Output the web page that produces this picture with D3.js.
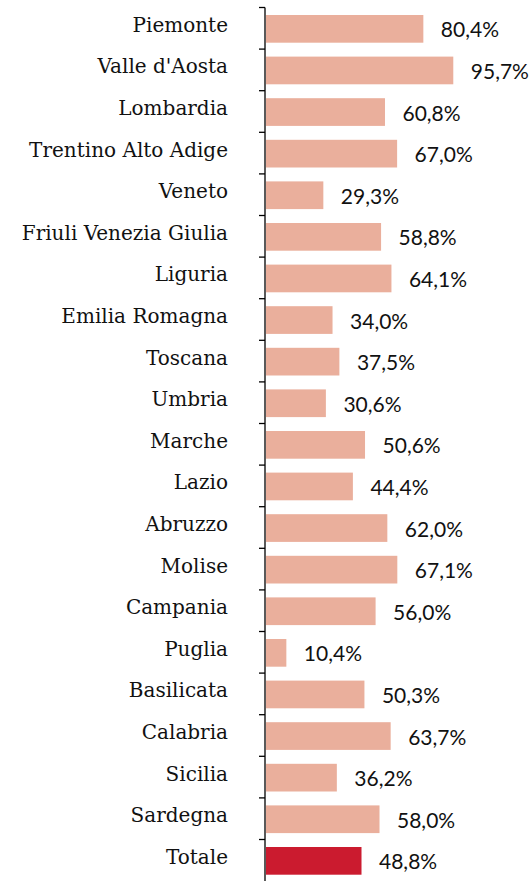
<!DOCTYPE html>
<html><head><meta charset="utf-8">
<script src="https://cdn.jsdelivr.net/npm/d3@7"></script>
<style>body{margin:0;background:#fff}</style>
</head><body>
<svg id="c" width="532" height="881"></svg>
<script>
const regions = ["Piemonte","Valle d'Aosta","Lombardia","Trentino Alto Adige","Veneto","Friuli Venezia Giulia","Liguria","Emilia Romagna","Toscana","Umbria","Marche","Lazio","Abruzzo","Molise","Campania","Puglia","Basilicata","Calabria","Sicilia","Sardegna","Totale"];
const values = [80.4,95.7,60.8,67.0,29.3,58.8,64.1,34.0,37.5,30.6,50.6,44.4,62.0,67.1,56.0,10.4,50.3,63.7,36.2,58.0,48.8];

const svg = d3.select("#c");
const x = d3.scaleLinear().domain([0,100]).range([266,461.7]);
const y = d3.scaleBand().domain(regions).range([7.5,881.1]).paddingInner(0).paddingOuter(0);
const fmt = v => v.toFixed(1).replace(".", ",") + "%";

svg.selectAll("rect.bar").data(regions).join("rect")
  .attr("x", x(0))
  .attr("y", d => y(d) + 7.5)
  .attr("width", (d,i) => x(values[i]) - x(0))
  .attr("height", 27.7)
  .attr("fill", d => d === "Totale" ? "#CB1B2F" : "#EAAF9C");

svg.append("line").attr("x1",265).attr("x2",265).attr("y1",y.range()[0]).attr("y2",881)
  .attr("stroke","#000").attr("stroke-width",1.3);
svg.selectAll("line.tick").data(regions).join("line")
  .attr("x1",259).attr("x2",265)
  .attr("y1", d => y(d)).attr("y2", d => y(d))
  .attr("stroke","#000").attr("stroke-width",1.3);

svg.selectAll("text.lab").data(regions).join("text")
  .attr("x", 228)
  .attr("y", d => y(d) + 24.3)
  .attr("text-anchor","end")
  .attr("font-family","DejaVu Serif")
  .attr("font-size","20px")
  .attr("fill","#111")
  .text(d => d);

svg.selectAll("text.val").data(regions).join("text")
  .attr("x", (d,i) => x(values[i]) + 17.5)
  .attr("y", d => y(d) + 29.8)
  .attr("font-family","Lato")
  .attr("font-size","21px")
  .attr("fill","#111")
  .text((d,i) => fmt(values[i]));
</script>
</body></html>
